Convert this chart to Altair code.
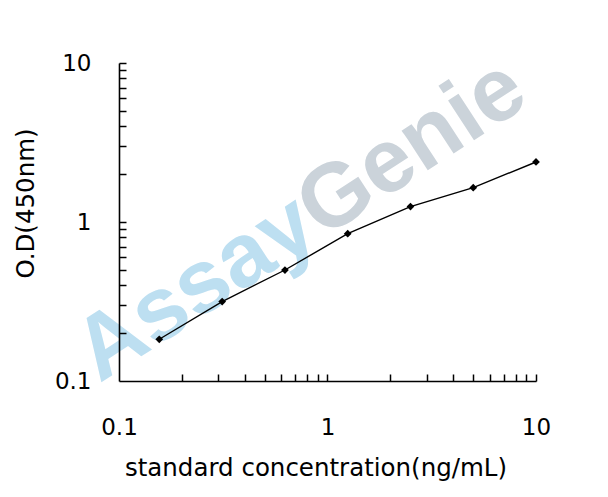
import altair as alt
import pandas as pd

# Standard curve data
conc = [0.156, 0.3125, 0.625, 1.25, 2.5, 5.0, 10.0]
od = [0.183, 0.316, 0.499, 0.845, 1.25, 1.645, 2.385]

major_ticks = [0.1, 1, 10]
minor_ticks = [0.2, 0.3, 0.4, 0.5, 0.6, 0.7, 0.8, 0.9, 1,
               2, 3, 4, 5, 6, 7, 8, 9, 10]

x_title = "standard concentration(ng/mL)"
y_title = "O.D(450nm)"

# watermark text and its anchor (in data units)
wm_left = "Assay"
wm_right = "Genie"
wm_anchor_x = [0.94]
wm_anchor_y = [0.78]

df = pd.DataFrame({"conc": conc, "od": od})
wm = pd.DataFrame({"x": wm_anchor_x, "y": wm_anchor_y})

FONT = "DejaVu Sans"

xscale = alt.Scale(type="log", domain=[0.1, 10], nice=False)
yscale = alt.Scale(type="log", domain=[0.1, 10], nice=False)

no_axis_x = alt.X("x:Q", scale=xscale, axis=None)
no_axis_y = alt.Y("y:Q", scale=yscale, axis=None)

wm_a = alt.Chart(wm).mark_text(
    text=wm_left, align="right", baseline="alphabetic", angle=327,
    font="Liberation Sans", fontWeight="bold", fontSize=90, color="#bddff1"
).encode(x=no_axis_x, y=no_axis_y)

wm_g = alt.Chart(wm).mark_text(
    text=wm_right, align="left", baseline="alphabetic", angle=327,
    font="Liberation Sans", fontWeight="bold", fontSize=90, color="#cbd3da"
).encode(x=no_axis_x, y=no_axis_y)

line = alt.Chart(df).mark_line(color="black", strokeWidth=1.4).encode(
    x=alt.X("conc:Q", scale=xscale, axis=alt.Axis(
        orient="bottom", values=major_ticks, format="~g", ticks=False, tickSize=0,
        grid=False, domain=True, domainColor="black", domainWidth=1.6,
        labelFont=FONT, labelFontSize=23, labelColor="black", labelPadding=35,
        labelFlush=False, labelOverlap=False,
        title=x_title, titleFont=FONT, titleFontSize=24.5, titleFontWeight="normal",
        titleColor="black", titleX=196.5, titleY=94, titleAlign="center",
        titleBaseline="alphabetic", zindex=1)),
    y=alt.Y("od:Q", scale=yscale, axis=alt.Axis(
        orient="left", values=major_ticks, format="~g", ticks=False, tickSize=0,
        grid=False, domain=True, domainColor="black", domainWidth=1.6,
        labelFont=FONT, labelFontSize=23, labelColor="black", labelPadding=28,
        labelFlush=False, labelOverlap=False, labelBaseline="middle",
        title=y_title, titleFont=FONT, titleFontSize=24.5, titleFontWeight="normal",
        titleColor="black", titleAngle=270, titleX=-86, titleY=140,
        titleAlign="center", titleBaseline="alphabetic", zindex=1)),
)

points = alt.Chart(df).mark_point(
    shape="diamond", filled=True, color="black", size=60, opacity=1
).encode(
    x=alt.X("conc:Q", scale=xscale, axis=alt.Axis(
        orient="bottom", values=minor_ticks, labels=False, domain=False,
        grid=False, ticks=True, tickSize=7, tickWidth=1.5, tickColor="black",
        offset=-7, title=None, zindex=1)),
    y=alt.Y("od:Q", scale=yscale, axis=alt.Axis(
        orient="left", values=minor_ticks, labels=False, domain=False,
        grid=False, ticks=True, tickSize=7, tickWidth=1.5, tickColor="black",
        offset=-7, title=None, zindex=1)),
)

chart = alt.layer(wm_a, wm_g, line, points).resolve_axis(
    x="independent", y="independent"
).properties(
    width=417, height=318,
    autosize=alt.AutoSizeParams(type="none"),
    padding={"left": 111, "top": 55, "right": 50, "bottom": 100},
    background="white",
).configure_view(strokeWidth=0)

chart.save("out.html", embed_options={"renderer": "svg", "actions": False})
